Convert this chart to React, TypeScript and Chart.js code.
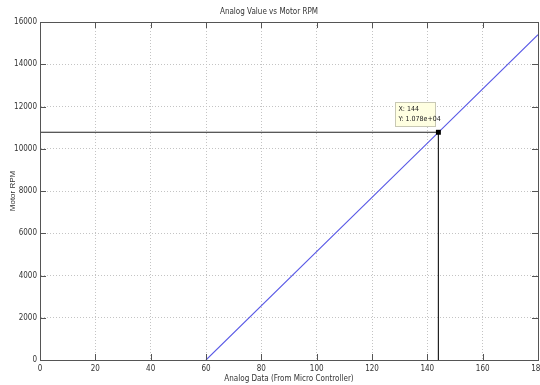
import React, { useEffect, useRef } from "react";
import { Chart, registerables } from "chart.js";

Chart.register(...registerables);

// ---- data ----
const lineX = [60, 144, 180];
const lineY = [0, 10780, 15400];
const tipX = 144;
const tipY = 10780;
const xMin = 0;
const xMax = 180;
const xStep = 20;
const yMin = 0;
const yMax = 16000;
const yStep = 2000;
const chartTitle = "Analog Value vs Motor RPM";
const xTitle = "Analog Data (From Micro Controller)";
const yTitle = "Motor RPM";

const FONT = "'Liberation Sans Narrow', 'DejaVu Sans Condensed', 'Liberation Sans', Arial, sans-serif";

function fmtExp(v: number): string {
  const s = v.toExponential(3);
  const [m, e] = s.split("e");
  const sign = e[0] === "-" ? "-" : "+";
  const digits = e.replace(/[+-]/, "").padStart(2, "0");
  return `${m}e${sign}${digits}`;
}

const matlabPlugin = {
  id: "matlabBox",
  afterDatasetsDraw(chart: any) {
    const { ctx, chartArea } = chart;
    const xs = chart.scales.x;
    const ys = chart.scales.y;
    ctx.save();
    ctx.strokeStyle = "#555";
    ctx.lineWidth = 1;
    ctx.strokeRect(
      Math.round(chartArea.left) + 0.5,
      Math.round(chartArea.top) + 0.5,
      Math.round(chartArea.right - chartArea.left),
      Math.round(chartArea.bottom - chartArea.top)
    );
    ctx.beginPath();
    xs.ticks.forEach((t: any) => {
      const px = Math.round(xs.getPixelForValue(t.value)) + 0.5;
      ctx.moveTo(px, chartArea.bottom);
      ctx.lineTo(px, chartArea.bottom - 6);
      ctx.moveTo(px, chartArea.top);
      ctx.lineTo(px, chartArea.top + 6);
    });
    ys.ticks.forEach((t: any) => {
      const py = Math.round(ys.getPixelForValue(t.value)) + 0.5;
      ctx.moveTo(chartArea.left, py);
      ctx.lineTo(chartArea.left + 6, py);
      ctx.moveTo(chartArea.right, py);
      ctx.lineTo(chartArea.right - 6, py);
    });
    ctx.stroke();

    const px = xs.getPixelForValue(tipX);
    const py = ys.getPixelForValue(tipY);
    const w = 40;
    const h = 24;
    const bx = Math.round(px - 3 - w) + 0.5;
    const by = Math.round(py - 6 - h) + 0.5;
    ctx.fillStyle = "#ffffe1";
    ctx.strokeStyle = "#c8c8b4";
    ctx.fillRect(bx, by, w, h);
    ctx.strokeRect(bx, by, w, h);
    ctx.fillStyle = "#222";
    ctx.font = `7px ${FONT}`;
    ctx.textBaseline = "middle";
    ctx.textAlign = "left";
    ctx.fillText(`X: ${tipX}`, bx + 3, by + 7);
    ctx.fillText(`Y: ${fmtExp(tipY)}`, bx + 3, by + 17);
    ctx.restore();
  },
};

export default function App() {
  const ref = useRef<HTMLCanvasElement | null>(null);

  useEffect(() => {
    if (!ref.current) return;
    Chart.defaults.font.family = FONT;
    Chart.defaults.font.size = 8;
    Chart.defaults.color = "#333";

    const chart = new Chart(ref.current, {
      type: "scatter",
      data: {
        datasets: [
          {
            data: lineX.map((x, i) => ({ x, y: lineY[i] })),
            showLine: true,
            borderColor: "#5a5ae6",
            borderWidth: 1.1,
            pointRadius: 0,
            order: 0,
          },
          {
            data: [
              { x: xMin, y: tipY },
              { x: tipX, y: tipY },
            ],
            showLine: true,
            borderColor: "#222",
            borderWidth: 1.2,
            pointRadius: 0,
            order: 1,
          },
          {
            data: [
              { x: tipX, y: yMin },
              { x: tipX, y: tipY },
            ],
            showLine: true,
            borderColor: "#222",
            borderWidth: 1.2,
            pointRadius: 0,
            order: 1,
          },
          {
            data: [{ x: tipX, y: tipY }],
            showLine: false,
            pointStyle: "rect",
            pointRadius: 3.5,
            backgroundColor: "#000",
            borderColor: "#000",
            borderWidth: 0,
            order: -1,
          },
        ],
      },
      options: {
        responsive: false,
        animation: false,
        devicePixelRatio: 1,
        layout: { padding: { left: 0, right: 18, top: 0, bottom: 0 } },
        plugins: {
          legend: { display: false },
          tooltip: { enabled: false },
          title: {
            display: true,
            text: chartTitle,
            color: "#333",
            font: { size: 8, weight: "normal", family: FONT, lineHeight: 1.2 },
            padding: { top: 7, bottom: 5.4 },
          },
        },
        scales: {
          x: {
            type: "linear",
            min: xMin,
            max: xMax,
            afterFit: (s: any) => {
              s.height = 25;
            },
            ticks: {
              stepSize: xStep,
              autoSkip: false,
              maxRotation: 0,
              padding: 4,
              color: "#333",
              callback: (v: any) => String(v),
            },
            grid: { color: "#c4c4c4", drawTicks: false, lineWidth: 1 },
            border: { display: true, color: "#555", dash: [1, 2] },
            title: {
              display: true,
              text: xTitle,
              color: "#333",
              font: { size: 8, family: FONT, lineHeight: 1.2 },
              padding: { top: 0, bottom: 1 },
            },
          },
          y: {
            type: "linear",
            min: yMin,
            max: yMax,
            afterFit: (s: any) => {
              s.width = 40;
            },
            ticks: {
              stepSize: yStep,
              autoSkip: false,
              padding: 3,
              color: "#333",
              callback: (v: any) => String(v),
            },
            grid: { color: "#c4c4c4", drawTicks: false, lineWidth: 1 },
            border: { display: true, color: "#555", dash: [1, 2] },
            title: {
              display: true,
              text: yTitle,
              color: "#333",
              font: { size: 8, family: "'Liberation Sans', Arial, sans-serif", lineHeight: 1.2 },
              padding: { top: 8, bottom: 0 },
            },
          },
        },
      },
      plugins: [matlabPlugin],
    } as any);
    return () => chart.destroy();
  }, []);

  return (
    <div
      style={{
        position: "fixed",
        left: 0,
        top: 0,
        width: 540,
        height: 385,
        overflow: "hidden",
        background: "#fff",
      }}
    >
      <canvas ref={ref} width={556} height={385} style={{ width: 556, height: 385, display: "block" }} />
    </div>
  );
}
